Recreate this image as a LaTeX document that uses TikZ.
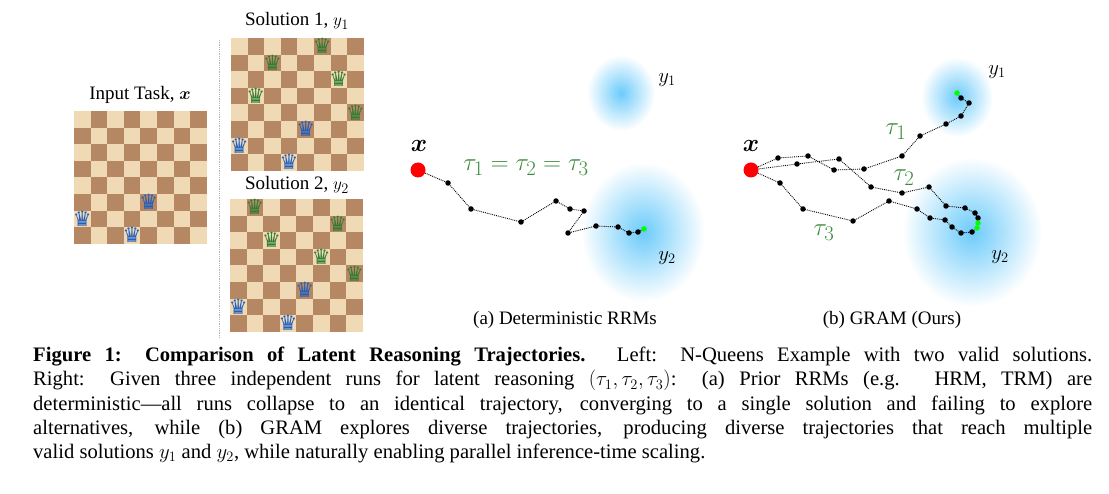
\documentclass[tikz,border=0pt]{standalone}
\usepackage{amsmath,bm}
\usepackage{fontspec}
\setmainfont{Liberation Serif}
\newfontfamily\symfont{DejaVu Sans}
\definecolor{lsq}{HTML}{F0D9B5}
\definecolor{dsq}{HTML}{B58863}
\definecolor{qblue}{HTML}{1F5FBF}
\definecolor{qgreen}{HTML}{2E7D32}
\definecolor{tgreen}{HTML}{3A8A3A}
\definecolor{blob}{HTML}{6CCBFA}
\tikzset{
  lbl/.style={font=\fontsize{19}{21}\selectfont, inner sep=0},
  ylbl/.style={font=\fontsize{22}{22}\selectfont, inner sep=0},
  xlbl/.style={font=\fontsize{28}{28}\selectfont, inner sep=0},
  subcap/.style={font=\fontsize{19}{21}\selectfont, inner sep=0},
  tau/.style={text=tgreen, font=\fontsize{30}{32}\selectfont, inner sep=0},
  pt/.style={circle, fill=black, inner sep=0, minimum size=5.5pt},
  gpt/.style={circle, fill=green, inner sep=0, minimum size=5.5pt},
  red/.style={circle, fill=red, inner sep=0, minimum size=15pt},
  traj/.style={densely dotted, line width=0.9pt},
  queen/.style={font=\symfont\fontsize{21}{21}\selectfont, inner sep=0},
}
\newcommand{\board}[3]{% x0,y0,name
  \foreach \r in {0,...,7}{\foreach \c in {0,...,7}{
    \pgfmathparse{mod(\r+\c,2)==0 ? "lsq" : "dsq"}
    \edef\col{\pgfmathresult}
    \fill[\col] ({#1+\c*16.6},{#2+\r*16.6}) rectangle ++(16.6,16.6);
  }}
  \coordinate (#3) at (#1,#2);
}
\newcommand{\queen}[5]{% x0,y0,row,col,color
  \node[queen, text=#5] at ({#1+#4*16.6+8.3},{#2+#3*16.6+8.0}) {♛};
}
\begin{document}
\begin{tikzpicture}[x=1pt,y=-1pt]
\useasboundingbox (0,0) rectangle (1109,494);
% boards
\board{74}{111}{b0}
\queen{74}{111}{5}{4}{qblue}\queen{74}{111}{6}{0}{qblue}\queen{74}{111}{7}{3}{qblue}
\board{231}{38}{b1}
\foreach \r/\c in {0/5,1/2,2/6,3/1,4/7}{\queen{231}{38}{\r}{\c}{qgreen}}
\foreach \r/\c in {5/4,6/0,7/3}{\queen{231}{38}{\r}{\c}{qblue}}
\board{230}{199}{b2}
\foreach \r/\c in {0/1,1/6,2/2,3/5,4/7}{\queen{230}{199}{\r}{\c}{qgreen}}
\foreach \r/\c in {5/4,6/0,7/3}{\queen{230}{199}{\r}{\c}{qblue}}
\node[lbl] (t0) at (140,95) {Input Task, $\bm{x}$};
\node[lbl] (t1) at (297,21) {Solution 1, $y_1$};
\node[lbl] (t2) at (297,185) {Solution 2, $y_2$};
\coordinate (s1) at (219,40); \coordinate (s2) at (219,338);
\draw[gray!60, densely dotted, line width=0.8pt] (s1) -- (s2);
% panel a blobs
\shade[inner color=blob, outer color=white] (621,93) ellipse (34 and 38);
\shade[inner color=blob, outer color=white] (643,232) ellipse (62 and 70);
\node[ylbl] (ay1) at (667,80) {$y_1$};
\node[ylbl] (ay2) at (667,258) {$y_2$};
\node[red] (ax) at (418,170) {};
\node[xlbl] (axl) at (419,146) {$\bm{x}$};
\node[tau] (atau) at (526,168) {$\tau_1=\tau_2=\tau_3$};
\draw[traj] (ax) -- (448,183) node[pt]{} -- (471,209) node[pt]{} -- (521,222) node[pt]{}
 -- (556,201) node[pt]{} -- (570,209) node[pt]{} -- (584,211) node[pt]{} -- (568,233) node[pt]{}
 -- (596,226) node[pt]{} -- (618,227) node[pt]{} -- (629,233) node[pt]{} -- (638,232) node[pt]{}
 -- (644,229) node[gpt] (ag) {};
\node[subcap] (capa) at (565,320) {(a) Deterministic RRMs};
% panel b blobs
\shade[inner color=blob, outer color=white] (957,97) ellipse (36 and 40);
\shade[inner color=blob, outer color=white] (972,232) ellipse (70 and 75);
\node[ylbl] (by1) at (997,72) {$y_1$};
\node[ylbl] (by2) at (1000,257) {$y_2$};
\node[red] (bx) at (751,170) {};
\node[xlbl] (bxl) at (751,146) {$\bm{x}$};
\draw[traj] (bx) -- (778,158) node[pt]{} -- (808,156) node[pt]{} -- (834,170) node[pt]{}
 -- (864,169) node[pt]{} -- (902,156) node[pt]{} -- (920,136) node[pt]{} -- (946,124) node[pt]{}
 -- (961,116) node[pt]{} -- (969,103) node[pt]{} -- (961,98) node[pt]{} -- (957,93) node[gpt] (pg) {};
\draw[traj] (bx) -- (797,164) node[pt]{} -- (839,159) node[pt]{} -- (871,187) node[pt]{}
 -- (902,193) node[pt]{} -- (929,187) node[pt]{} -- (946,206) node[pt]{} -- (965,208) node[pt]{}
 -- (975,213) node[pt]{} -- (978,218) node[pt]{} -- (978,223) node[gpt] (qg) {};
\draw[traj] (bx) -- (780,183) node[pt]{} -- (803,209) node[pt]{} -- (853,221) node[pt]{}
 -- (889,201) node[pt]{} -- (917,209) node[pt]{} -- (930,218) node[pt]{} -- (945,220) node[pt]{}
 -- (952,227) node[pt]{} -- (961,233) node[pt]{} -- (972,232) node[pt]{} -- (977,228) node[gpt] (rg) {};
\node[tau] (bt1) at (896,132) {$\tau_1$};
\node[tau] (bt2) at (904,178) {$\tau_2$};
\node[tau] (bt3) at (824,233) {$\tau_3$};
\node[subcap] (capb) at (892,320) {(b) GRAM (Ours)};
% caption
\node[anchor=north west, text width=1059pt, align=justify, inner sep=0,
  font=\fontsize{20.6}{24.2}\selectfont] (fig) at (33,347) {%
\textbf{Figure 1: Comparison of Latent Reasoning Trajectories.} Left: N-Queens Example with two valid solutions.\linebreak
Right: Given three independent runs for latent reasoning $(\tau_1,\tau_2,\tau_3)$: (a) Prior RRMs (e.g. HRM, TRM) are\linebreak
deterministic---all runs collapse to an identical trajectory, converging to a single solution and failing to explore\linebreak
alternatives, while (b) GRAM explores diverse trajectories, producing diverse trajectories that reach multiple\linebreak
valid solutions $y_1$ and $y_2$, while naturally enabling parallel inference-time scaling.};
\end{tikzpicture}
\end{document}
